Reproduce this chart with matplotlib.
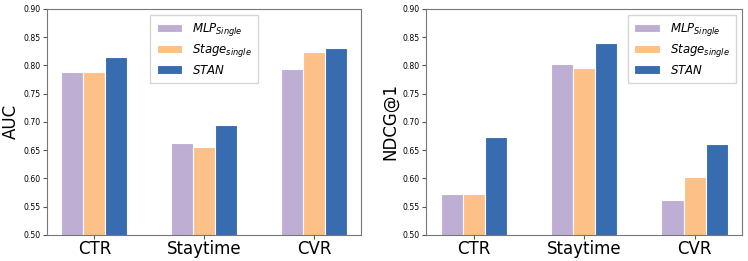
import numpy as np
import matplotlib
matplotlib.use("Agg")
import matplotlib.pyplot as plt

tasks = ["CTR", "Staytime", "CVR"]
labels = ["$MLP_{Single}$", "$Stage_{single}$", "$STAN$"]
colors = ["#beaed4", "#fdc086", "#386cb0"]

# AUC values (left panel)
auc_mlp = [0.789, 0.663, 0.793]
auc_stage = [0.789, 0.656, 0.824]
auc_stan = [0.814, 0.694, 0.830]

# NDCG@1 values (right panel)
ndcg_mlp = [0.573, 0.803, 0.562]
ndcg_stage = [0.572, 0.796, 0.603]
ndcg_stan = [0.674, 0.840, 0.660]

fig = plt.figure(figsize=(7.48, 2.61), dpi=100)
ax1 = fig.add_axes([0.063, 0.100, 0.420, 0.866])
ax2 = fig.add_axes([0.570, 0.100, 0.422, 0.866])

x = np.arange(len(tasks))
w = 0.2

def draw(ax, series, ylabel, legend_loc):
    for i, (vals, lab, col) in enumerate(zip(series, labels, colors)):
        ax.bar(x + (i - 1) * w, vals, w, color=col, edgecolor="white",
               linewidth=0.8, label=lab)
    ax.set_ylim(0.5, 0.9)
    ticks = np.arange(0.50, 0.901, 0.05)
    ax.set_yticks(ticks)
    ax.set_yticklabels(["%.2f" % v for v in ticks])
    ax.set_xticks(x)
    ax.set_xticklabels(tasks, fontsize=12)
    ax.tick_params(axis="y", labelsize=5.6, length=3, color="#555555", pad=2)
    ax.tick_params(axis="x", length=3, color="#555555", pad=1)
    ax.set_ylabel(ylabel, fontsize=12)
    ax.yaxis.set_label_coords(-0.087, 0.5)
    for s in ax.spines.values():
        s.set_color("#777777")
    ax.legend(loc=legend_loc, fontsize=8.5, handlelength=2.2, borderpad=0.55,
              labelspacing=0.35, fancybox=False)

draw(ax1, [auc_mlp, auc_stage, auc_stan], "AUC", "upper center")
draw(ax2, [ndcg_mlp, ndcg_stage, ndcg_stan], "NDCG@1", "upper right")

fig.savefig("out.png", dpi=100)
